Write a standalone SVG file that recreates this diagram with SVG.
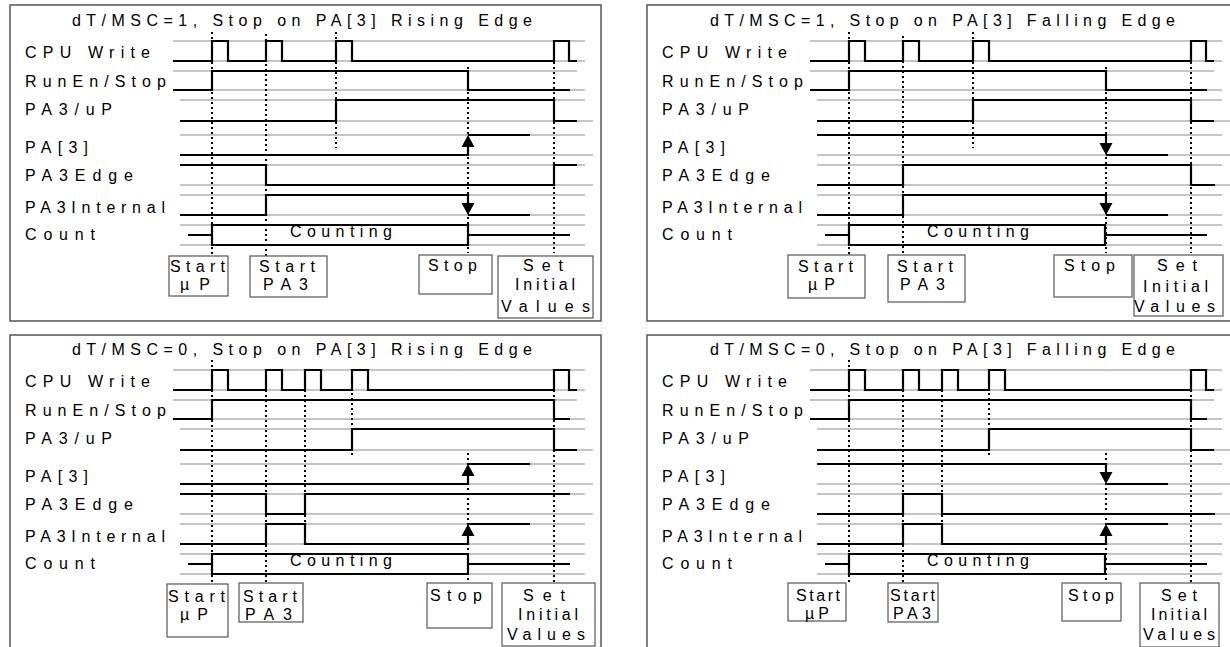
<svg xmlns="http://www.w3.org/2000/svg" xmlns:xlink="http://www.w3.org/1999/xlink" width="1230" height="647" viewBox="0 0 1230 647">
<style>
.bg{fill:#fff}
.frame{fill:none;stroke:#555;stroke-width:1.5}
.ref{stroke:#8a8a8a;stroke-width:1.2;fill:none}
.sig{stroke:#000;stroke-width:2.2;fill:none;stroke-linejoin:miter}
.dot{stroke:#000;stroke-width:2;stroke-dasharray:2 3;fill:none}
.box{fill:none;stroke:#555;stroke-width:1.2}
.arr{fill:#000;stroke:none}
text{font-family:"Liberation Sans",Arial,sans-serif;font-size:16px;fill:#000}
.t{font-size:16px}
</style>
<defs>
<path id="arrUp" d="M0,0 L-6.5,12 L6.5,12 Z"/>
<path id="arrDn" d="M0,0 L-6.5,-12 L6.5,-12 Z"/>
<g id="refs" class="ref">
<path d="M173,41H585M173,61H585M173,71H577M173,90H585M180,100H585M180,121H593M180,135H585M180,155H593M180,165H585M180,185H593M180,195H585M180,215H585M180,225H585M180,245H585"/>
</g>
<g id="labels">
<text x="25" y="58" textLength="125" lengthAdjust="spacing">CPU Write</text>
<text x="25" y="87" textLength="141" lengthAdjust="spacing">RunEn/Stop</text>
<text x="25" y="115" textLength="87" lengthAdjust="spacing">PA3/uP</text>
<text x="25" y="153" textLength="63" lengthAdjust="spacing">PA[3]</text>
<text x="25" y="181" textLength="108" lengthAdjust="spacing">PA3Edge</text>
<text x="25" y="213" textLength="140" lengthAdjust="spacing">PA3Internal</text>
<text x="25" y="240" textLength="70" lengthAdjust="spacing">Count</text>
</g>
<g id="countBox">
<path class="sig" d="M188,235H212M212,225H468V245H212ZM468,235H570"/>
<text x="290" y="237" textLength="102" lengthAdjust="spacing">Counting</text>
</g>
</defs>

<rect class="bg" x="0" y="0" width="1230" height="647"/>

<!-- Panel 1 -->
<g id="panel1">
<rect class="frame" x="10" y="5" width="591" height="316"/>
<text x="72" y="26" textLength="460" lengthAdjust="spacing">dT/MSC=1, Stop on PA[3] Rising Edge</text>
<use href="#labels"/>
<use href="#refs"/>
<g id="p1-signals" class="sig">
<path d="M173,61H212V41H228V61H266V41H282V61H336V41H352V61H554V41H569V61H577"/>
<path d="M173,90H212V71H468V90H570"/>
<path d="M180,121H336V100H554V121H577"/>
<path d="M180,155H468V146M468,135H530"/>
<path d="M180,165H266V185H554V165H577"/>
<path d="M180,215H266V195H468V204M468,215H530"/>
</g>
<use href="#countBox"/>
<g id="p1-markers">
<use class="arr" href="#arrUp" x="468" y="135"/>
<use class="arr" href="#arrDn" x="468" y="215"/>
</g>
<g id="p1-connectors" class="dot">
<path d="M212,32V256M266,34V256M336,32V148M468,67V253M554,62V253"/>
</g>
<g id="p1-startup">
<rect class="box" x="169" y="256" width="59" height="40"/>
<text x="170" y="272" textLength="55" lengthAdjust="spacing">Start</text>
<text x="180" y="290" textLength="30" lengthAdjust="spacing">µP</text>
</g>
<g id="p1-startpa3">
<rect class="box" x="250" y="256" width="77" height="41"/>
<text x="259" y="272" textLength="56" lengthAdjust="spacing">Start</text>
<text x="263" y="290" textLength="45" lengthAdjust="spacing">PA3</text>
</g>
<g id="p1-stop">
<rect class="box" x="419" y="255" width="73" height="39"/>
<text x="428" y="271" textLength="49" lengthAdjust="spacing">Stop</text>
</g>
<g id="p1-set">
<rect class="box" x="498" y="256" width="95" height="62"/>
<text x="523" y="271" textLength="40" lengthAdjust="spacing">Set</text>
<text x="515" y="290" textLength="60" lengthAdjust="spacing">Initial</text>
<text x="501" y="312" textLength="89" lengthAdjust="spacing">Values</text>
</g>
</g>

<!-- Panel 2 -->
<g id="panel2" transform="translate(637,0)">
<rect class="frame" x="10" y="5" width="600" height="316"/>
<text x="73" y="26" textLength="465" lengthAdjust="spacing">dT/MSC=1, Stop on PA[3] Falling Edge</text>
<use href="#labels"/>
<use href="#refs"/>
<g id="p2-signals" class="sig">
<path d="M173,61H212V41H228V61H266V41H282V61H336V41H352V61H554V41H569V61H577"/>
<path d="M173,90H212V71H469V90H570"/>
<path d="M180,121H336V100H554V121H577"/>
<path d="M180,135H469V144M469,155H531"/>
<path d="M180,185H266V165H554V185H578"/>
<path d="M180,215H266V195H469V204M469,215H531"/>
</g>
<use href="#countBox"/>
<g id="p2-markers">
<use class="arr" href="#arrDn" x="469" y="155"/>
<use class="arr" href="#arrDn" x="469" y="215"/>
</g>
<g id="p2-connectors" class="dot">
<path d="M212,32V255M266,36V255M336,32V148M469,67V253M554,62V253"/>
</g>
<g id="p2-startup">
<rect class="box" x="151" y="255" width="77" height="43"/>
<text x="161" y="272" textLength="55" lengthAdjust="spacing">Start</text>
<text x="171" y="290" textLength="27" lengthAdjust="spacing">µP</text>
</g>
<g id="p2-startpa3">
<rect class="box" x="251" y="255" width="77" height="47"/>
<text x="260" y="272" textLength="56" lengthAdjust="spacing">Start</text>
<text x="263" y="290" textLength="45" lengthAdjust="spacing">PA3</text>
</g>
<g id="p2-stop">
<rect class="box" x="417" y="255" width="78" height="42"/>
<text x="427" y="271" textLength="51" lengthAdjust="spacing">Stop</text>
</g>
<g id="p2-set">
<rect class="box" x="497" y="255" width="89" height="61"/>
<text x="520" y="271" textLength="40" lengthAdjust="spacing">Set</text>
<text x="506" y="292" textLength="65" lengthAdjust="spacing">Initial</text>
<text x="497" y="312" textLength="81" lengthAdjust="spacing">Values</text>
</g>
</g>

<!-- Panel 3 -->
<g id="panel3" transform="translate(0,329)">
<rect class="frame" x="10" y="6" width="591" height="330"/>
<text x="72" y="26" textLength="460" lengthAdjust="spacing">dT/MSC=0, Stop on PA[3] Rising Edge</text>
<use href="#labels"/>
<use href="#refs"/>
<g id="p3-signals" class="sig">
<path d="M173,61H212V41H228V61H266V41H282V61H305V41H321V61H352V41H368V61H554V41H569V61H577"/>
<path d="M173,90H212V71H554V90H570"/>
<path d="M180,121H352V100H554V121H577"/>
<path d="M180,155H468V146M468,135H530"/>
<path d="M180,165H266V185H305V165H570"/>
<path d="M180,215H266V195H305V215H468V206M468,195H530"/>
</g>
<use href="#countBox"/>
<g id="p3-markers">
<use class="arr" href="#arrUp" x="468" y="135"/>
<use class="arr" href="#arrUp" x="468" y="195"/>
</g>
<g id="p3-connectors" class="dot">
<path d="M212,31V255M266,61V254M305,61V215M352,64V128M468,124V253M554,61V253"/>
</g>
<g id="p3-startup">
<rect class="box" x="167" y="255" width="61" height="53"/>
<text x="168" y="273" textLength="57" lengthAdjust="spacing">Start</text>
<text x="180" y="291" textLength="28" lengthAdjust="spacing">µP</text>
</g>
<g id="p3-startpa3">
<rect class="box" x="239" y="254" width="64" height="39"/>
<text x="243" y="273" textLength="54" lengthAdjust="spacing">Start</text>
<text x="245" y="291" textLength="47" lengthAdjust="spacing">PA3</text>
</g>
<g id="p3-stop">
<rect class="box" x="427" y="254" width="65" height="45"/>
<text x="430" y="272" textLength="52" lengthAdjust="spacing">Stop</text>
</g>
<g id="p3-set">
<rect class="box" x="502" y="254" width="93" height="63"/>
<text x="523" y="272" textLength="42" lengthAdjust="spacing">Set</text>
<text x="518" y="291" textLength="60" lengthAdjust="spacing">Initial</text>
<text x="507" y="311" textLength="78" lengthAdjust="spacing">Values</text>
</g>
</g>

<!-- Panel 4 -->
<g id="panel4" transform="translate(637,329)">
<rect class="frame" x="10" y="6" width="600" height="330"/>
<text x="73" y="26" textLength="465" lengthAdjust="spacing">dT/MSC=0, Stop on PA[3] Falling Edge</text>
<use href="#labels"/>
<use href="#refs"/>
<g id="p4-signals" class="sig">
<path d="M173,61H212V41H228V61H266V41H282V61H305V41H321V61H352V41H368V61H554V41H569V61H577"/>
<path d="M173,90H212V71H554V90H570"/>
<path d="M180,121H352V100H554V121H577"/>
<path d="M180,135H469V144M469,155H531"/>
<path d="M180,185H266V165H305V185H578"/>
<path d="M180,215H266V195H305V215H469V206M469,195H531"/>
</g>
<use href="#countBox"/>
<g id="p4-markers">
<use class="arr" href="#arrDn" x="469" y="155"/>
<use class="arr" href="#arrUp" x="469" y="195"/>
</g>
<g id="p4-connectors" class="dot">
<path d="M212,31V255M266,61V254M305,61V215M352,64V128M469,124V253M554,61V253"/>
</g>
<g id="p4-startup">
<rect class="box" x="151" y="254" width="58" height="38"/>
<text x="159" y="272" textLength="44" lengthAdjust="spacing">Start</text>
<text x="168" y="290" textLength="24" lengthAdjust="spacing">µP</text>
</g>
<g id="p4-startpa3">
<rect class="box" x="251" y="254" width="50" height="39"/>
<text x="253" y="272" textLength="45" lengthAdjust="spacing">Start</text>
<text x="256" y="290" textLength="38" lengthAdjust="spacing">PA3</text>
</g>
<g id="p4-stop">
<rect class="box" x="425" y="254" width="59" height="38"/>
<text x="431" y="272" textLength="46" lengthAdjust="spacing">Stop</text>
</g>
<g id="p4-set">
<rect class="box" x="503" y="254" width="79" height="64"/>
<text x="524" y="272" textLength="36" lengthAdjust="spacing">Set</text>
<text x="514" y="291" textLength="56" lengthAdjust="spacing">Initial</text>
<text x="506" y="311" textLength="72" lengthAdjust="spacing">Values</text>
</g>
</g>
</svg>
